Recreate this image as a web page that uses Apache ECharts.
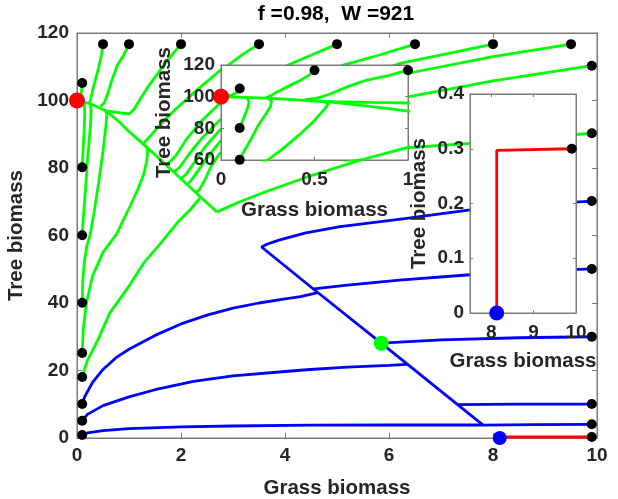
<!DOCTYPE html>
<html><head><meta charset="utf-8">
<script src="https://cdn.jsdelivr.net/npm/echarts@6/dist/echarts.min.js"></script>
<style>html,body{margin:0;padding:0;background:#fff}#c{width:618px;height:499px}</style>
</head><body><div id="c"></div>
<script>
// ---- data (grass biomass, tree biomass) ----
const titleText = 'f =0.98,  W =921';
const xTicksMain = [0, 2, 4, 6, 8, 10];
const yTicksMain = [0, 20, 40, 60, 80, 100, 120];

// green trajectories (towards forest state)
const gSpine = [[2.69,67],[2.37,71.5],[2.0,76.8],[1.79,79.8],[1.34,86.2],[1.0,90.8],[0.83,93.4],[0.57,96.8],[0.245,99.1],[0,100]];
const gTop05 = [[0.5,116.7],[0.47,113.5],[0.42,110],[0.36,106.5],[0.3,103],[0.27,100.8],[0.24,99.2]];
const gTop1 = [[1.0,116.7],[0.9,113.5],[0.78,110.5],[0.67,106],[0.58,101.5],[0.52,99.2],[0.45,98.2]];
const gTop2 = [[2.0,116.7],[1.8,113],[1.6,109],[1.4,104.8],[1.21,100.3],[1.1,97.4],[1.0,96.0],[0.8,96.4],[0.57,96.9]];
const gTop35 = [[3.5,116.7],[3.2,113.8],[2.91,110.5],[2.75,108.9],[2.3,103],[1.9,97.5],[1.6,92.8],[1.4,89.3],[1.27,87.2]];
const gTop5 = [[5.0,116.7],[4.5,113.4],[4.06,110.5],[3.4,104.8],[2.75,99.2],[2.4,94],[2.1,88.4],[1.9,83.6],[1.72,80.8]];
const gTop65 = [[6.5,116.7],[5.8,113.4],[5.12,110.5],[3.9,102],[2.75,94.2],[2.4,88.8],[2.15,84],[1.98,80.3],[1.86,78.8]];
const gTop8 = [[8.0,116.7],[7.1,113.8],[6.21,111],[4.5,101],[2.75,91.3],[2.45,86],[2.25,81.5],[2.1,78.2],[2.0,76.8]];
const gTop95 = [[9.5,116.7],[8.0,113],[6.34,108],[4.5,97.5],[2.75,87.8],[2.5,83],[2.32,79],[2.2,76.4],[2.12,75.1]];
const gR110 = [[9.9,110.3],[8.0,105.8],[6.34,101],[4.5,92.5],[2.75,84.4],[2.58,80.5],[2.45,76.2],[2.35,73.5],[2.28,72.6]];
const gR90 = [[9.9,90.3],[8.5,88.6],[7.56,87.3],[6.34,86],[5.5,82.6],[4.4,77.2],[3.6,72.8],[3.13,70],[2.9,68.4],[2.69,67]];
const gL105 = [[0.1,105.2],[0.09,103],[0.06,101],[0,100]];
const gL80 = [[0.1,80.2],[0.12,86],[0.14,92],[0.15,96.5],[0.14,99.4]];
const gL60 = [[0.1,60.1],[0.13,67],[0.16,73],[0.2,82],[0.24,89],[0.265,94],[0.27,97.5],[0.25,99.1]];
const gL40 = [[0.1,40.1],[0.11,46],[0.14,52],[0.19,57],[0.25,60],[0.33,67],[0.42,76],[0.5,85],[0.557,92.6],[0.575,95.8],[0.55,96.9]];
const gL25 = [[0.1,25.2],[0.12,32],[0.18,40],[0.3,48],[0.5,55],[0.76,60.4],[1.0,68],[1.18,74],[1.28,78],[1.34,82],[1.36,85],[1.34,86.2]];
const gL18 = [[0.1,18.1],[0.2,23],[0.4,29],[0.63,37],[1.0,45],[1.28,51.8],[1.6,57.5],[1.92,63.6],[2.2,68],[2.37,71.2]];

// blue trajectories (towards grassland state)
const bR70 = [[9.9,70.2],[9.0,69.4],[7.56,67.6],[6.3,65],[5.06,62.6],[4.4,60.8],[3.9,58.7],[3.65,57.4],[3.55,56.6],[3.62,55.7]];
const bDiag = [[3.62,55.7],[4.51,44.6],[5.85,28.1],[7.32,9.9],[7.81,3.8]];
const bR50 = [[9.9,50.1],[9.0,49.6],[7.49,48.3],[6.2,46.8],[5.2,45.3],[4.55,44.2]];
const bR30 = [[9.9,30],[8.5,29.7],[7.0,29.1],[5.85,28.1]];
const bR10 = [[9.9,10.05],[8.5,10.05],[7.32,9.9]];
const bR4 = [[9.9,4.05],[8.8,3.95],[7.81,3.8]];
const bL10 = [[0.1,10.1],[0.15,12.3],[0.3,16.5],[0.5,20.3],[0.75,23.8],[1.0,26.3],[1.5,30.4],[2.0,33.8],[2.5,36.4],[3.0,38.5],[3.5,40],[4.0,41.2],[4.3,41.9],[4.63,43.1]];
const bL5 = [[0.1,5.1],[0.2,7],[0.5,9.6],[1.0,12.2],[1.5,14.3],[2.24,16.8],[3.0,18.4],[4.0,19.7],[4.48,20.3],[5.2,21],[6.0,21.5],[6.34,21.8]];
const bL1 = [[0.1,0.9],[0.2,1.5],[0.5,2.2],[1.0,2.8],[2.0,3.3],[3.0,3.55],[4.48,3.8],[6.0,3.85],[7.81,3.85]];

// red trajectory
const rPath = [[9.9,0.3],[8.13,0.297],[8.13,0]];

// start points and equilibria
const startTop = [[0.5,116.7],[1,116.7],[2,116.7],[3.5,116.7],[5,116.7],[6.5,116.7],[8,116.7],[9.5,116.7]];
const startLeft = [[0.1,105.2],[0.1,80.2],[0.1,60.1],[0.1,40.1],[0.1,25.2],[0.1,18.1],[0.1,10.1],[0.1,5.1],[0.1,0.9]];
const startRight = [[9.9,110.3],[9.9,90.3],[9.9,70.2],[9.9,50.1],[9.9,30],[9.9,10.05],[9.9,4.05],[9.9,0.3]];
const eqForest = [[0,100]];
const eqSaddle = [[5.85,28.1]];
const eqGrass = [[8.13,0]];

const greenSet = [gSpine,gTop05,gTop1,gTop2,gTop35,gTop5,gTop65,gTop8,gTop95,gR110,gR90,gL105,gL80,gL60,gL40,gL25,gL18];
const blueSet = [bR70,bDiag,bR50,bR30,bR10,bR4,bL10,bL5,bL1];
const redSet = [rPath];

const GREEN='#00ff00', BLUE='#0000ff', RED='#ff0000';
const AX='#7a7a7a', TXT='#262626';
const FONT='"Liberation Sans", Arial, Helvetica, sans-serif';

function lineSeries(data, color, gi, z){
  return {type:'line', data:data, xAxisIndex:gi*2, yAxisIndex:gi*2, showSymbol:false, symbol:'none',
    lineStyle:{color:color, width:2.8}, itemStyle:{color:color}, clip:true, silent:true, animation:false, z:z};
}
function dots(data, color, size, gi, z){
  return {type:'scatter', data:data, xAxisIndex:gi*2, yAxisIndex:gi*2, symbolSize:size,
    itemStyle:{color:color, opacity:1}, clip:true, silent:true, animation:false, z:z};
}
function axisPair(gi, isX, o){
  const lbl = {show:!o.hideLabel, color:TXT, fontWeight:'bold', fontSize:19, fontFamily:FONT, margin:o.margin||7};
  if (o.fmt) lbl.formatter=o.fmt;
  if (o.custom) lbl.customValues=o.custom;
  const tick = {show:true, inside:true, length:o.tl||5, lineStyle:{color:AX}};
  if (o.custom) tick.customValues=o.custom;
  const base = {type:'value', gridIndex:gi, min:o.min, max:o.max, z:o.z||0,
    axisLine:{show:true, onZero:false, lineStyle:{color:AX, width:1}},
    splitLine:{show:false}};
  if (o.interval!==undefined) base.interval=o.interval;
  const a = Object.assign({}, base, {position: isX?'bottom':'left', axisTick:tick, axisLabel:lbl,
    name:o.name, nameLocation:'middle', nameGap:o.gap,
    nameTextStyle:{color:TXT, fontWeight:'bold', fontSize:20.5, fontFamily:FONT}});
  const b = Object.assign({}, base, {position: isX?'top':'right', axisTick:tick, axisLabel:{show:false}});
  return [a,b];
}

const xAxes=[], yAxes=[];
xAxes.push(...axisPair(0,true,{min:0,max:10,interval:2,name:'Grass biomass',gap:40,margin:8}));
yAxes.push(...axisPair(0,false,{min:0,max:120,interval:20,name:'Tree biomass',gap:46,margin:8}));
xAxes.push(...axisPair(1,true,{min:0,max:1,interval:0.5,name:'Grass biomass',gap:40,z:6,tl:3,margin:10}));
yAxes.push(...axisPair(1,false,{min:60,max:120,interval:20,name:'Tree biomass',gap:46,z:6,tl:3,margin:6}));
xAxes.push(...axisPair(2,true,{min:7.5,max:10,custom:[8,9,10],name:'Grass biomass',gap:38,z:6,tl:3,margin:10}));
yAxes.push(...axisPair(2,false,{min:0,max:0.4,interval:0.1,name:'Tree biomass',gap:40,z:6,tl:3,margin:6,
  fmt:function(v){return String(Math.round(v*10)/10);}}));

const series=[];
greenSet.forEach(d=>series.push(lineSeries(d,GREEN,0,2)));
blueSet.forEach(d=>series.push(lineSeries(d,BLUE,0,2)));
redSet.forEach(d=>series.push(lineSeries(d,RED,0,2)));
series.push(dots(startTop.concat(startLeft,startRight),'#000',10,0,3));
series.push(dots(eqForest,RED,16,0,4));
series.push(dots(eqSaddle,GREEN,15,0,4));
series.push(dots(eqGrass,BLUE,14,0,4));
// inset 1 (zoom near forest state)
greenSet.forEach(d=>series.push(lineSeries(d,GREEN,1,7)));
series.push(dots(startTop.concat(startLeft,startRight),'#000',10,1,8));
series.push(dots(eqForest,RED,16,1,9));
// inset 2 (zoom near grassland state)
redSet.forEach(d=>series.push(lineSeries(d,RED,2,7)));
series.push(dots(startRight,'#000',10,2,8));
series.push(dots(eqGrass,BLUE,15,2,9));

const chart = echarts.init(document.getElementById('c'), null, {renderer:'canvas'});
chart.setOption({
  animation:false,
  backgroundColor:'#fff',
  grid:[
    {left:77, top:33, width:520, height:405, show:true, borderColor:AX, borderWidth:1, backgroundColor:'transparent', z:0, outerBoundsMode:'none', containLabel:false},
    {left:221, top:65, width:187, height:95, show:true, borderColor:AX, borderWidth:1, backgroundColor:'#fff', z:5, outerBoundsMode:'none', containLabel:false},
    {left:470, top:94, width:106, height:219, show:true, borderColor:AX, borderWidth:1, backgroundColor:'#fff', z:5, outerBoundsMode:'none', containLabel:false}
  ],
  xAxis:xAxes, yAxis:yAxes, series:series,
  graphic:[{type:'text', x:336, y:14, z:20, style:{text:titleText, align:'center', verticalAlign:'middle', fill:'#000', font:'bold 21px '+FONT}}]
});
</script></body></html>
